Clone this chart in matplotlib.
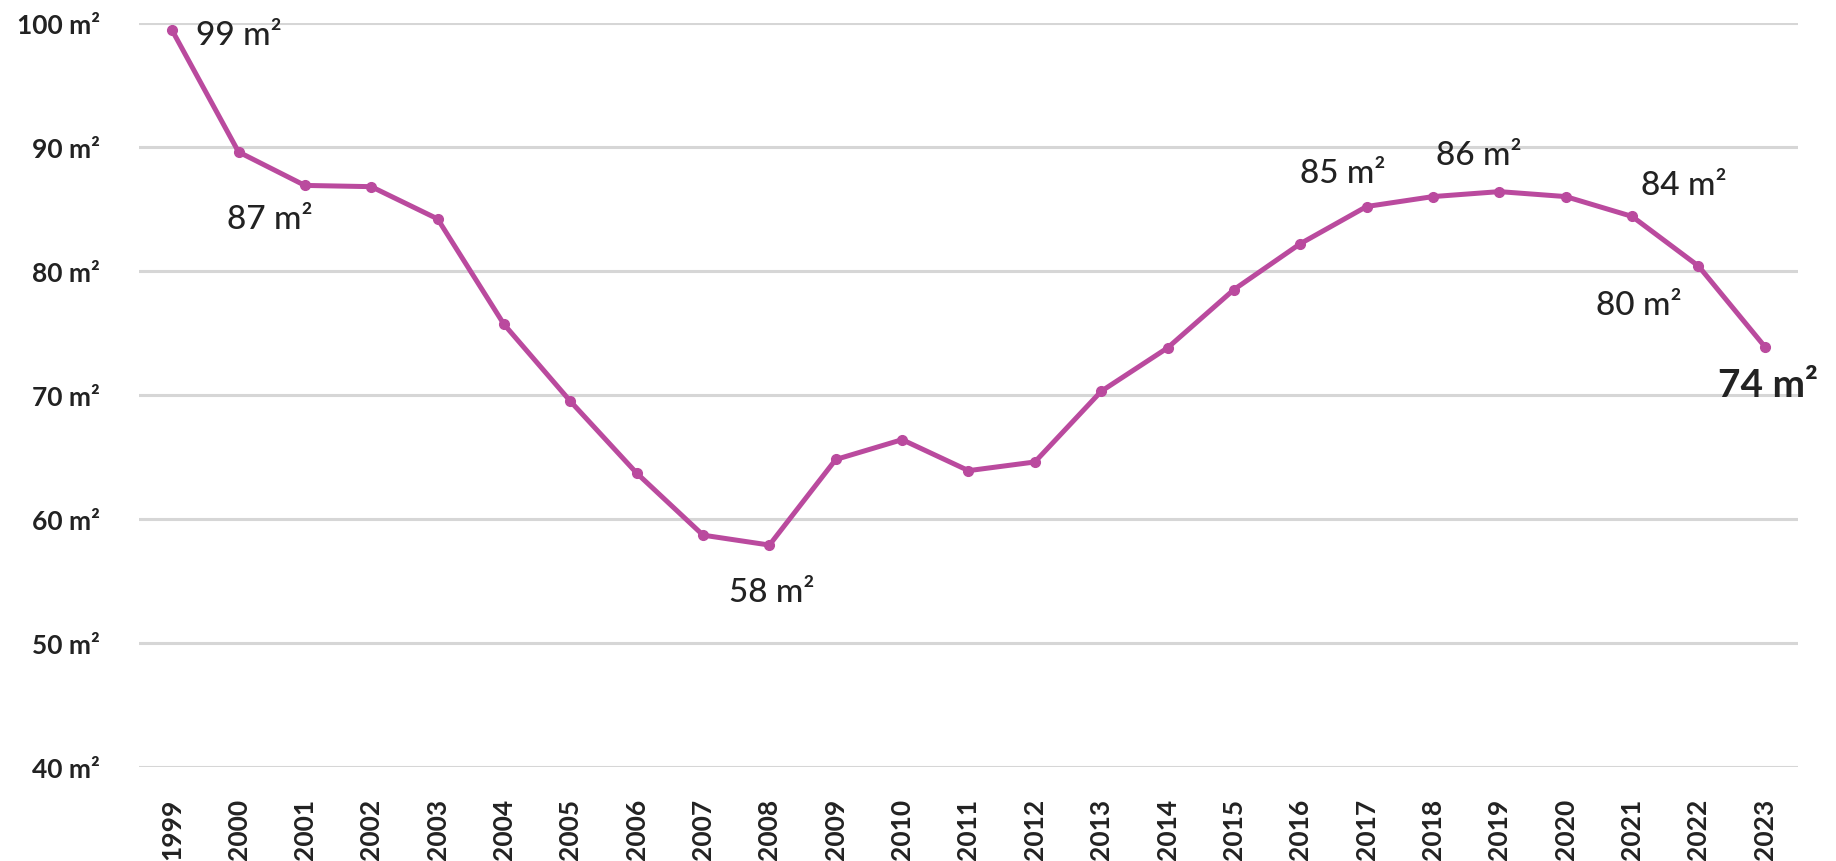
import matplotlib
matplotlib.use("Agg")
import matplotlib.pyplot as plt

plt.rcParams['font.family'] = ['Lato', 'DejaVu Sans']

# Average surface per year (m²)
years = [str(y) for y in range(1999, 2024)]
surface = [99.4, 89.6, 86.9, 86.8, 84.2, 75.7, 69.5, 63.7, 58.7, 57.9,
           64.8, 66.4, 63.9, 64.6, 70.3, 73.8, 78.5, 82.2, 85.2, 86.0,
           86.4, 86.0, 84.4, 80.4, 73.9]

y_ticks = [40, 50, 60, 70, 80, 90, 100]
y_tick_labels = [f"{v} m²" for v in y_ticks]

# Years that carry a value label, with label offsets in pixels
labelled = {
    "1999": (24, -14, "left"),
    "2001": (-35, -43, "center"),
    "2008": (2, -56, "center"),
    "2017": (-24, 25, "center"),
    "2019": (-21, 28, "center"),
    "2021": (52, 22, "center"),
    "2022": (-60, -48, "center"),
    "2023": (3, -49, "center"),
}

LINE = "#BA4A9E"
TEXT = "#222222"
GRID = "#D6D6D6"

fig = plt.figure(figsize=(18.36, 8.62), dpi=100)
ax = fig.add_axes([0.0757, 0.109, 0.9036, 0.8632])

x = list(range(len(years)))
ax.plot(x, surface, color=LINE, lw=3.6, marker="o", ms=7,
        markerfacecolor=LINE, markeredgecolor=LINE, zorder=3,
        solid_joinstyle="round")

ax.set_xlim(-0.5, len(years) - 0.5)
ax.set_ylim(40, 100)
ax.set_yticks(y_ticks)
ax.set_yticklabels(y_tick_labels, fontsize=19, fontweight="bold", color=TEXT)
ax.set_xticks(x)
ax.set_xticklabels(years, rotation=90, fontsize=19, fontweight="bold",
                   color=TEXT, va="top", ha="center")
ax.tick_params(axis="y", length=0, pad=28)
ax.tick_params(axis="x", length=0, pad=22)

ax.grid(axis="y", color=GRID, lw=2.2)
ax.set_axisbelow(True)
for s in ax.spines.values():
    s.set_visible(False)

for i, (yr, v) in enumerate(zip(years, surface)):
    if yr not in labelled:
        continue
    dx, dy, ha = labelled[yr]
    last = yr == years[-1]
    ax.annotate(f"{round(v)} m²", xy=(i, v), xytext=(dx, dy),
                textcoords="offset pixels", ha=ha, va="baseline",
                fontsize=28 if last else 24,
                fontweight="bold" if last else "medium", color=TEXT)

fig.savefig("out.png", dpi=100, facecolor="white")
